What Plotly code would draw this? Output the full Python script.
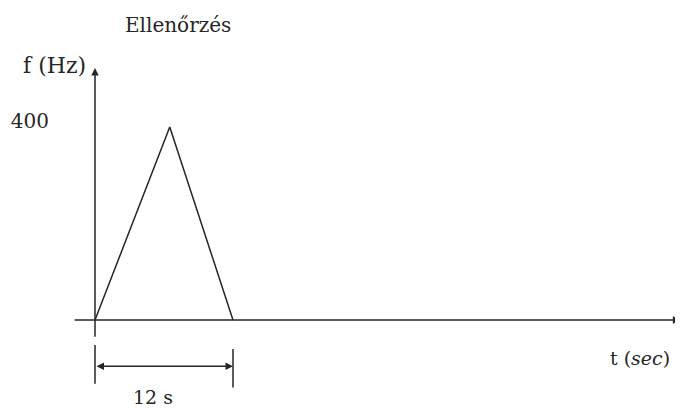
#!/usr/bin/env python3
"""
Frequency sweep check: triangle f(t) rising to 400 Hz and back within 12 s
"""

import plotly.graph_objects as go

# time (s) and frequency (Hz) of the sweep
t_sec = [0, 6.5, 12]
freq_hz = [0, 400, 0]

# y tick shown on the drawing
y_ticks = [400]
y_tick_labels = ['400']

duration = 12
title_text = 'Ellenőrzés'

INK = '#262626'
SERIF = 'DejaVu Serif'


def create_fig():
    fig = go.Figure()

    # the sweep itself
    fig.add_trace(go.Scatter(
        x=t_sec, y=freq_hz,
        mode='lines',
        line=dict(color=INK, width=1.5),
        hoverinfo='skip',
        showlegend=False
    ))

    # hand-drawn style axes with arrowheads
    fig.add_annotation(
        x=50.9, y=0, ax=-1.9, ay=0,
        xref='x', yref='y', axref='x', ayref='y',
        showarrow=True, arrowhead=2, arrowsize=1, arrowwidth=1.5,
        arrowcolor=INK, text=''
    )
    fig.add_annotation(
        x=0, y=522, ax=0, ay=-38,
        xref='x', yref='y', axref='x', ayref='y',
        showarrow=True, arrowhead=2, arrowsize=1, arrowwidth=1.5,
        arrowcolor=INK, text=''
    )

    # dimension marker for the duration
    fig.add_shape(type='line', x0=0, x1=0, y0=-52, y1=-132,
                  line=dict(color=INK, width=1.5))
    fig.add_shape(type='line', x0=duration, x1=duration, y0=-60, y1=-140,
                  line=dict(color=INK, width=1.5))
    fig.add_annotation(
        x=duration, y=-96, ax=0, ay=-96,
        xref='x', yref='y', axref='x', ayref='y',
        showarrow=True, arrowhead=2, arrowside='end+start',
        arrowsize=1, arrowwidth=1.5, arrowcolor=INK, text=''
    )
    fig.add_annotation(
        x=duration / 2 - 1.0, y=-160, text=f'{duration} s',
        showarrow=False, font=dict(family=SERIF, size=19, color=INK)
    )

    # labels
    fig.add_annotation(
        x=7.2, y=611, text=title_text, showarrow=False,
        font=dict(family=SERIF, size=20, color=INK)
    )
    fig.add_annotation(
        x=-3.5, y=528, text='f (Hz)', showarrow=False,
        font=dict(family=SERIF, size=22, color=INK)
    )
    fig.add_annotation(
        x=47.4, y=-79, text='t (<i>sec</i>)', showarrow=False,
        font=dict(family=SERIF, size=19, color=INK)
    )

    # the page body adds an 8px offset, so the figure is 8px smaller
    fig.update_layout(
        width=675, height=402,
        margin=dict(l=42, r=0, t=0, b=0),
        plot_bgcolor='white',
        paper_bgcolor='white',
        xaxis=dict(range=[-45 / 11.5, 588 / 11.5], visible=False,
                   fixedrange=True),
        yaxis=dict(range=[-186.5, 646.6],
                   tickvals=y_ticks, ticktext=y_tick_labels,
                   ticks='', showgrid=False, zeroline=False,
                   showline=False, ticklabelshift=-6,
                   tickfont=dict(family=SERIF, size=20, color=INK),
                   fixedrange=True),
    )
    return fig


def main():
    fig = create_fig()
    fig.write_html('out.html')


if __name__ == '__main__':
    main()
